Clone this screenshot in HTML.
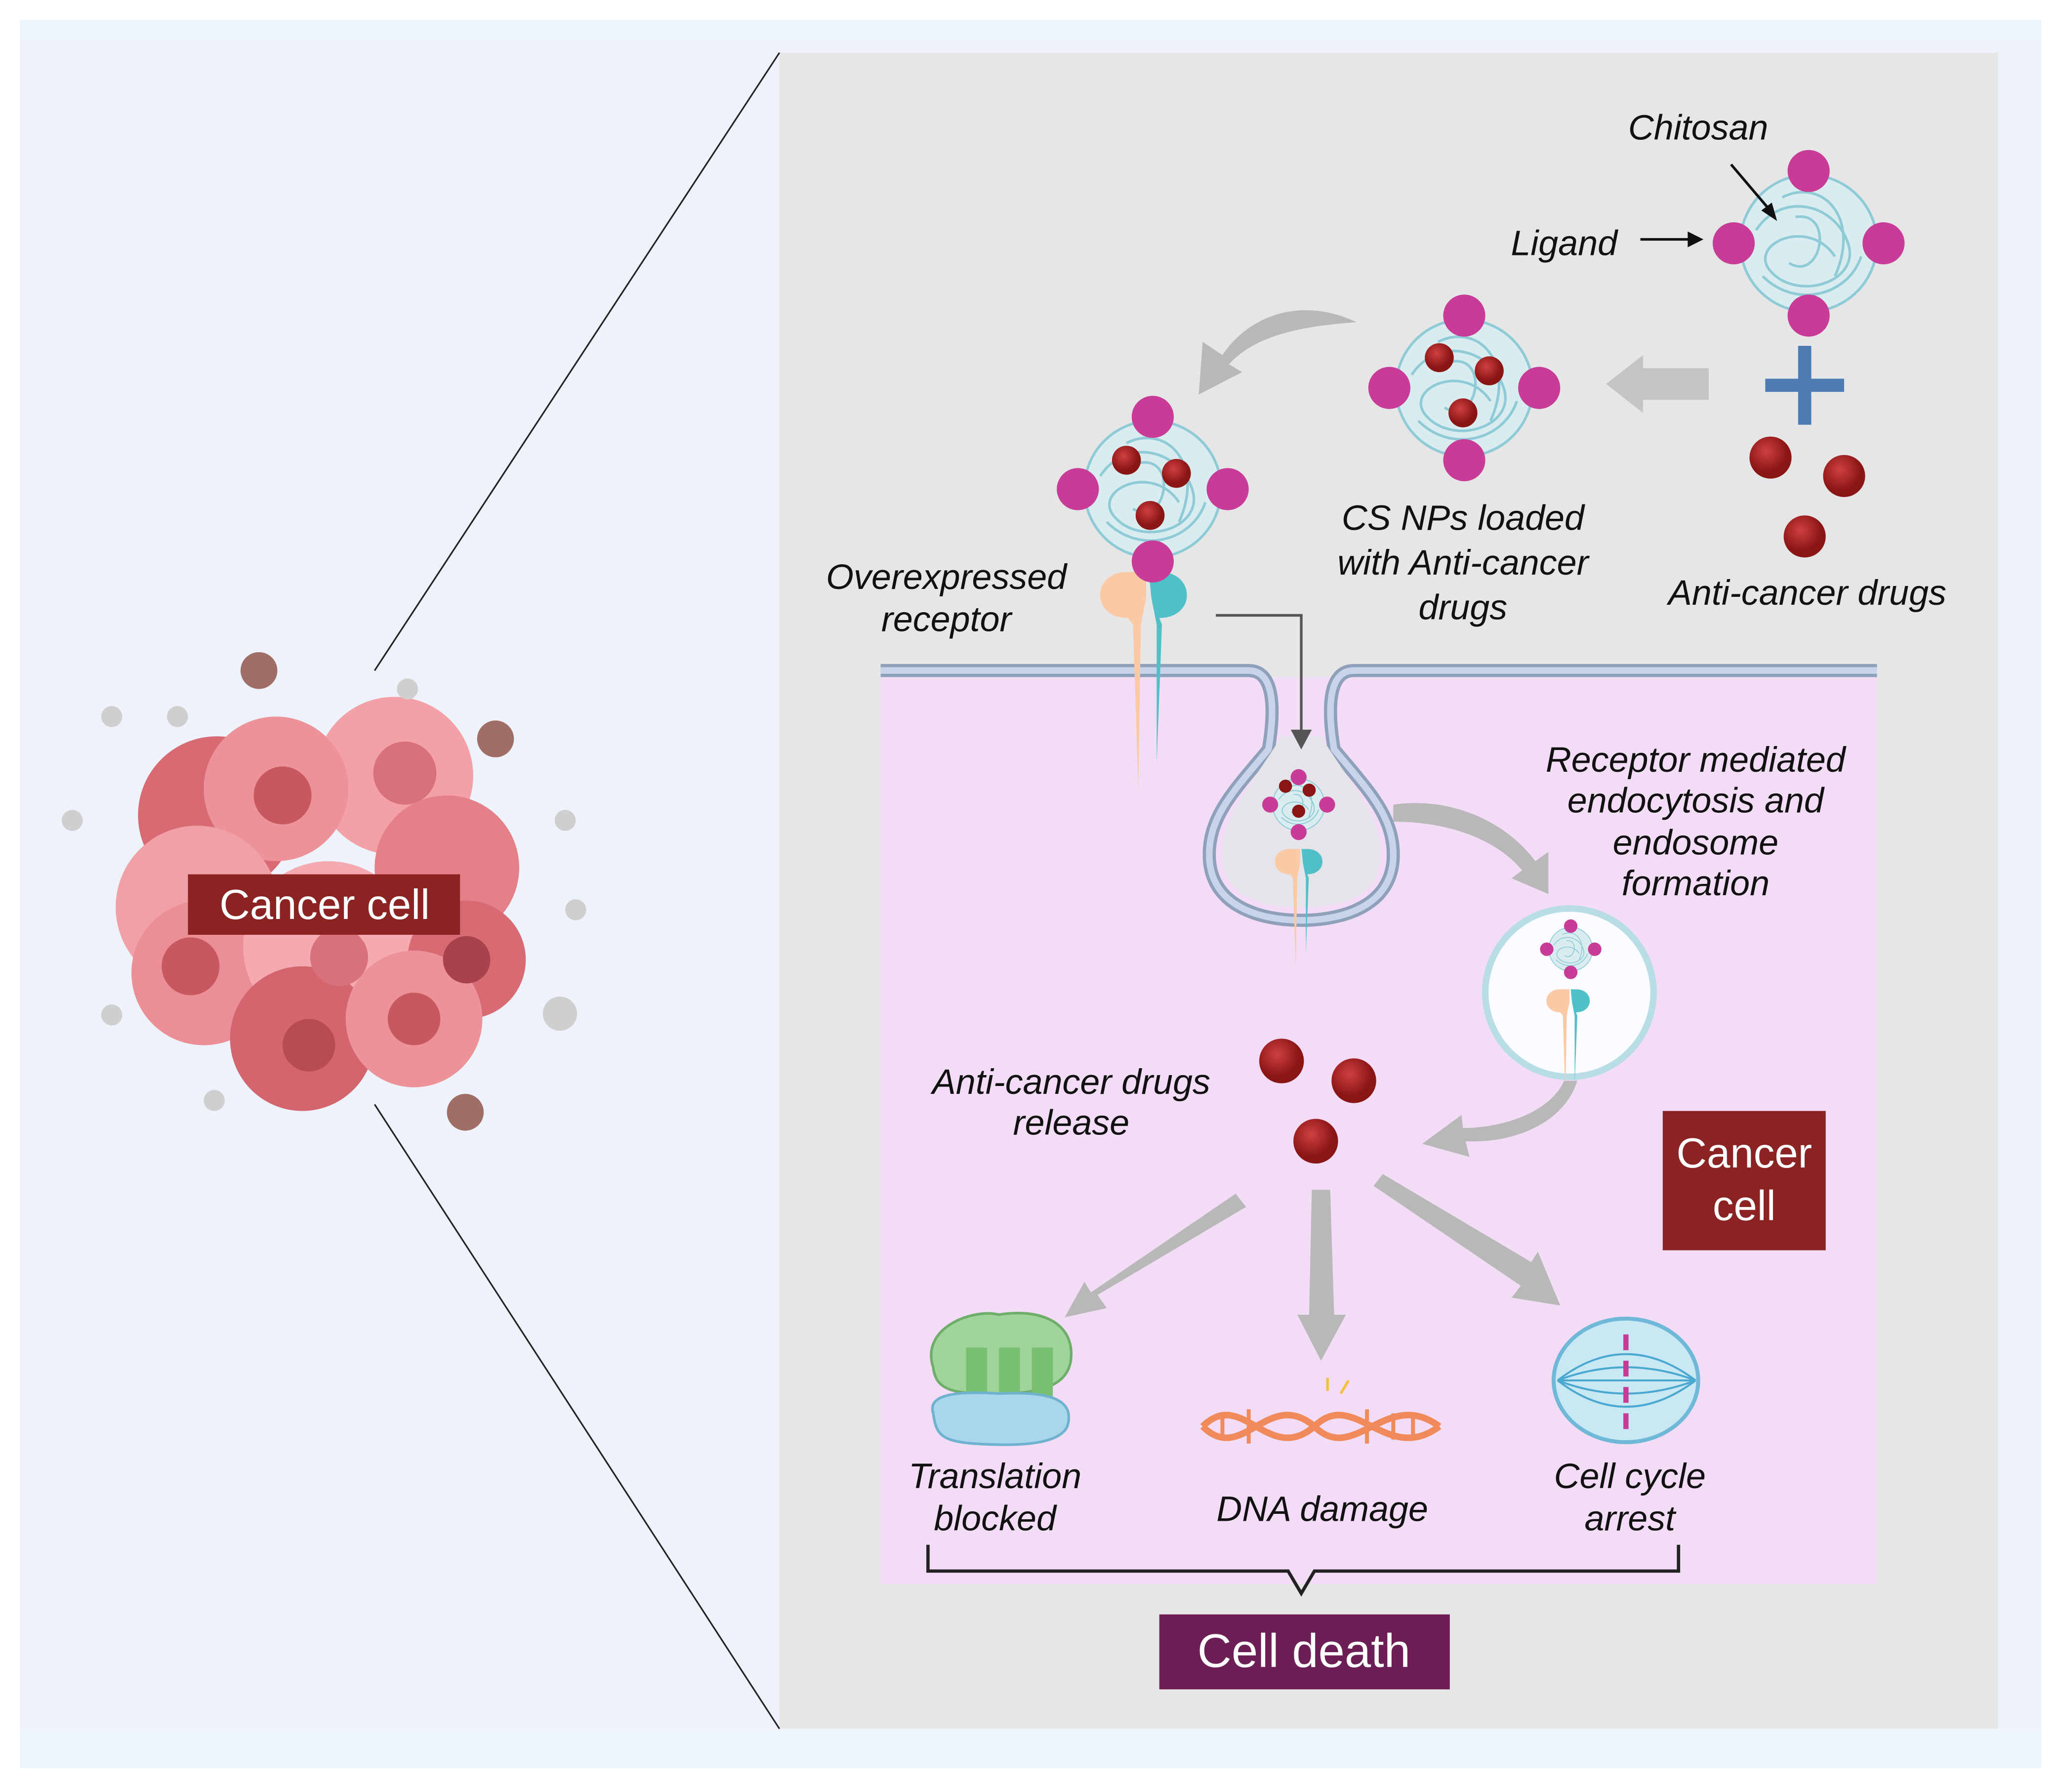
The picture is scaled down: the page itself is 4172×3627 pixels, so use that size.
<!DOCTYPE html>
<html><head><meta charset="utf-8"><style>
html,body{margin:0;padding:0;background:#fff}
svg{display:block}
text{font-family:"Liberation Sans",sans-serif}
.it{font-style:italic;font-size:27px;fill:#111}
</style></head><body>
<svg width="4172" height="3627" viewBox="0 0 1568 1363" xmlns="http://www.w3.org/2000/svg">
<defs>
<g id="np">
<circle r="52" fill="#d9ecef" stroke="#8fcbd6" stroke-width="2"/>
<path d="M-40,-10 C-20,-40 20,-30 30,0 C40,30 -10,45 -30,20 C-45,0 0,-20 20,10 M-20,-35 C10,-50 40,-20 20,25 M-35,25 C-10,50 30,40 40,10 M-10,-20 C20,-25 10,30 -15,15" fill="none" stroke="#8fcbd6" stroke-width="2"/>
<circle cx="0" cy="-55" r="16" fill="#c83b97"/><circle cx="0" cy="55" r="16" fill="#c83b97"/>
<circle cx="-57" cy="0" r="16" fill="#c83b97"/><circle cx="57" cy="0" r="16" fill="#c83b97"/>
</g>
<radialGradient id="dr" cx="0.4" cy="0.35"><stop offset="0" stop-color="#d04040"/><stop offset="1" stop-color="#8a1515"/></radialGradient>
<g id="rec">
<path d="M-12,0 C-40,0 -40,-35 -12,-35 L2,-35 L2,-15 L-2,5 L-4,130 L-8,5 Z" fill="#fbc9a3"/>
<path d="M12,0 C40,0 40,-35 12,-35 L4,-35 L6,-15 L10,5 L10,110 L14,5 Z" fill="#4fbfc8"/>
</g>
</defs>
<rect width="1568" height="1363" fill="#fff"/>
<rect x="15" y="15" width="1538" height="1330" fill="#eef6fb"/>
<rect x="15" y="30" width="1538" height="1285" fill="#edf2fb"/>
<rect x="593" y="40" width="927" height="1275" fill="#e6e6e6"/>
<line x1="593" y1="40" x2="285" y2="510" stroke="#222" stroke-width="1.2"/>
<line x1="593" y1="1315" x2="285" y2="840" stroke="#222" stroke-width="1.2"/>
<!-- left cancer cluster -->
<g>
<circle cx="165" cy="620" r="60" fill="#d86a73"/>
<circle cx="300" cy="590" r="60" fill="#f3a0a6"/>
<circle cx="210" cy="600" r="55" fill="#ee9299"/>
<circle cx="150" cy="690" r="62" fill="#f0a0a6"/>
<circle cx="340" cy="660" r="55" fill="#e57f88"/>
<circle cx="155" cy="740" r="55" fill="#eb8e96"/>
<circle cx="250" cy="720" r="65" fill="#f4aab0"/>
<circle cx="355" cy="730" r="45" fill="#d86a73"/>
<circle cx="230" cy="790" r="55" fill="#d4646d"/>
<circle cx="315" cy="775" r="52" fill="#ee9299"/>
<circle cx="215" cy="605" r="22" fill="#c85860"/><circle cx="308" cy="588" r="24" fill="#d8717a"/>
<circle cx="145" cy="735" r="22" fill="#c85860"/><circle cx="235" cy="795" r="20" fill="#b84c55"/>
<circle cx="315" cy="775" r="20" fill="#c85860"/><circle cx="355" cy="730" r="18" fill="#a8434b"/>
<circle cx="258" cy="728" r="22" fill="#d8717a"/>
</g>
<g fill="#cfcfcf"><circle cx="85" cy="545" r="8"/><circle cx="135" cy="545" r="8"/><circle cx="310" cy="524" r="8"/><circle cx="55" cy="624" r="8"/><circle cx="430" cy="624" r="8"/><circle cx="438" cy="692" r="8"/><circle cx="85" cy="772" r="8"/><circle cx="163" cy="837" r="8"/><circle cx="426" cy="771" r="13"/></g>
<g fill="#a06e66"><circle cx="197" cy="510" r="14"/><circle cx="377" cy="562" r="14"/><circle cx="354" cy="846" r="14"/></g>
<rect x="143" y="665" width="207" height="46" fill="#8b2323"/>
<text x="247" y="699" font-size="32" fill="#fff" text-anchor="middle">Cancer cell</text>
<!-- cell interior -->
<rect x="670" y="515" width="758" height="690" fill="#f3dcf6"/>
<path d="M670,510 L950,510 C970,510 970,540 965,570 C940,600 920,620 920,650 C920,690 960,700 990,700 C1020,700 1060,690 1060,650 C1060,620 1040,600 1015,570 C1010,540 1010,510 1030,510 L1428,510" fill="none" stroke="#8fa0bb" stroke-width="10"/>
<path d="M670,510 L950,510 C970,510 970,540 965,570 C940,600 920,620 920,650 C920,690 960,700 990,700 C1020,700 1060,690 1060,650 C1060,620 1040,600 1015,570 C1010,540 1010,510 1030,510 L1428,510" fill="none" stroke="#c8d4ea" stroke-width="5"/>
<path d="M975,560 C950,600 930,620 930,650 C930,685 965,690 990,690 C1015,690 1050,685 1050,650 C1050,620 1030,600 1005,560 Z" fill="#e4e4ea"/>
<!-- nanoparticles -->
<use href="#np" transform="translate(1376,185)"/>
<use href="#np" transform="translate(1114,295)"/>
<use href="#rec" transform="translate(870,470)"/>
<use href="#np" transform="translate(877,372)"/>
<g fill="url(#dr)">
<circle cx="1095" cy="272" r="11"/><circle cx="1133" cy="282" r="11"/><circle cx="1113" cy="314" r="11"/>
<circle cx="857" cy="350" r="11"/><circle cx="895" cy="360" r="11"/><circle cx="875" cy="392" r="11"/>
<circle cx="1347" cy="348" r="16"/><circle cx="1403" cy="362" r="16"/><circle cx="1373" cy="408" r="16"/>
<circle cx="975" cy="807" r="17"/><circle cx="1030" cy="822" r="17"/><circle cx="1001" cy="868" r="17"/>
</g>
<g transform="translate(988,612) scale(0.38)"><use href="#np"/></g>
<g transform="translate(988,665) scale(0.55)"><use href="#rec"/></g>
<g fill="#8a1515"><circle cx="978" cy="598" r="5"/><circle cx="996" cy="601" r="5"/><circle cx="988" cy="617" r="5"/></g>
<circle cx="1194" cy="755" r="64" fill="#fafcff" stroke="#b8dde6" stroke-width="5"/>
<g transform="translate(1195,722) scale(0.32)"><use href="#np"/></g>
<g transform="translate(1193,770) scale(0.5)"><use href="#rec"/></g>
<!-- plus -->
<rect x="1343" y="288" width="60" height="10" fill="#4f7bb5"/><rect x="1368" y="263" width="10" height="60" fill="#4f7bb5"/>
<!-- arrows -->
<path d="M1300,280 L1250,280 L1250,270 L1222,292 L1250,314 L1250,304 L1300,304 Z" fill="#c4c4c4"/>
<path d="M1032,245 C990,225 950,240 930,270 L915,260 L912,300 L945,283 L935,277 C955,255 990,248 1032,245 Z" fill="#b8b8b8"/>
<path d="M1060,612 C1110,605 1150,630 1168,655 L1178,648 L1178,680 L1150,668 L1158,662 C1140,640 1105,625 1060,625 Z" fill="#b8b8b8"/>
<path d="M1200,822 C1190,855 1150,870 1115,868 L1118,880 L1082,870 L1112,848 L1113,858 C1145,858 1180,845 1190,822 Z" fill="#b8b8b8"/>
<path d="M940,908 L948,918 L835,985 L842,995 L810,1002 L825,975 L830,983 Z" fill="#b8b8b8"/>
<path d="M998,905 L1012,905 L1015,1000 L1024,1000 L1005,1035 L987,1000 L996,1000 Z" fill="#b8b8b8"/>
<path d="M1045,902 L1052,893 L1165,960 L1170,952 L1187,993 L1150,987 L1157,978 Z" fill="#b8b8b8"/>
<path d="M925,468 L990,468 L990,558" fill="none" stroke="#555" stroke-width="2"/>
<path d="M982,555 L998,555 L990,570 Z" fill="#555"/>
<line x1="1248" y1="182" x2="1285" y2="182" stroke="#111" stroke-width="2"/><path d="M1284,176 L1296,182 L1284,188 Z" fill="#111"/>
<line x1="1317" y1="125" x2="1345" y2="158" stroke="#111" stroke-width="2"/><path d="M1340,160 L1352,168 L1348,154 Z" fill="#111"/>
<!-- labels -->
<text class="it" x="1292" y="106" text-anchor="middle">Chitosan</text>
<text class="it" x="1190" y="194" text-anchor="middle">Ligand</text>
<text class="it" x="1113" y="403" text-anchor="middle">CS NPs loaded</text>
<text class="it" x="1113" y="437" text-anchor="middle">with Anti-cancer</text>
<text class="it" x="1113" y="471" text-anchor="middle">drugs</text>
<text class="it" x="1375" y="460" text-anchor="middle">Anti-cancer drugs</text>
<text class="it" x="720" y="448" text-anchor="middle">Overexpressed</text>
<text class="it" x="720" y="480" text-anchor="middle">receptor</text>
<text class="it" x="1290" y="587" text-anchor="middle">Receptor mediated</text>
<text class="it" x="1290" y="618" text-anchor="middle">endocytosis and</text>
<text class="it" x="1290" y="650" text-anchor="middle">endosome</text>
<text class="it" x="1290" y="681" text-anchor="middle">formation</text>
<text class="it" x="815" y="832" text-anchor="middle">Anti-cancer drugs</text>
<text class="it" x="815" y="863" text-anchor="middle">release</text>
<rect x="1265" y="845" width="124" height="106" fill="#8b2323"/>
<text x="1327" y="888" font-size="32" fill="#fff" text-anchor="middle">Cancer</text>
<text x="1327" y="928" font-size="32" fill="#fff" text-anchor="middle">cell</text>
<!-- icons -->
<path d="M710,1040 C700,1010 740,995 760,1000 C790,995 815,1005 815,1030 C815,1055 790,1060 760,1060 C730,1060 712,1060 710,1040 Z" fill="#9fd49a" stroke="#6fae6a" stroke-width="2"/>
<rect x="735" y="1025" width="16" height="40" fill="#79bf72"/><rect x="760" y="1025" width="16" height="40" fill="#79bf72"/><rect x="785" y="1025" width="16" height="40" fill="#79bf72"/>
<path d="M710,1075 C705,1060 730,1058 760,1060 C800,1058 818,1065 812,1085 C805,1100 770,1100 740,1098 C715,1096 712,1090 710,1075 Z" fill="#a9d6ea" stroke="#6fb2cf" stroke-width="2"/>
<path d="M915,1085 C945,1055 965,1115 1000,1085 C1030,1055 1055,1115 1095,1085" fill="none" stroke="#f08a5a" stroke-width="5"/>
<path d="M915,1085 C945,1115 965,1055 1000,1085 C1030,1115 1055,1055 1095,1085" fill="none" stroke="#f08a5a" stroke-width="5"/>
<g stroke="#f08a5a" stroke-width="3"><line x1="930" y1="1075" x2="930" y2="1095"/><line x1="950" y1="1072" x2="950" y2="1098"/><line x1="1040" y1="1072" x2="1040" y2="1098"/><line x1="1060" y1="1075" x2="1060" y2="1095"/><line x1="1075" y1="1075" x2="1075" y2="1095"/></g>
<g stroke="#f5c040" stroke-width="2"><line x1="1020" y1="1060" x2="1026" y2="1050"/><line x1="1010" y1="1058" x2="1010" y2="1048"/></g>
<ellipse cx="1237" cy="1050" rx="55" ry="47" fill="#c8e8f4" stroke="#6fb8d8" stroke-width="3"/>
<g stroke="#4aa8d0" stroke-width="1.5" fill="none"><path d="M1185,1050 Q1237,1010 1290,1050"/><path d="M1185,1050 Q1237,1030 1290,1050"/><path d="M1185,1050 L1290,1050"/><path d="M1185,1050 Q1237,1070 1290,1050"/><path d="M1185,1050 Q1237,1090 1290,1050"/></g>
<g fill="#c83b97"><rect x="1235" y="1015" width="4" height="12"/><rect x="1235" y="1035" width="4" height="12"/><rect x="1235" y="1055" width="4" height="12"/><rect x="1235" y="1075" width="4" height="12"/></g>
<text class="it" x="757" y="1132" text-anchor="middle">Translation</text>
<text class="it" x="757" y="1164" text-anchor="middle">blocked</text>
<text class="it" x="1006" y="1157" text-anchor="middle">DNA damage</text>
<text class="it" x="1240" y="1132" text-anchor="middle">Cell cycle</text>
<text class="it" x="1240" y="1164" text-anchor="middle">arrest</text>
<path d="M706,1175 L706,1195 L980,1195 L990,1212 L1000,1195 L1277,1195 L1277,1175" fill="none" stroke="#222" stroke-width="2.5"/>
<rect x="882" y="1228" width="221" height="57" fill="#6b1f55"/>
<text x="992" y="1268" font-size="36" fill="#fff" text-anchor="middle">Cell death</text>
</svg>
</body></html>
